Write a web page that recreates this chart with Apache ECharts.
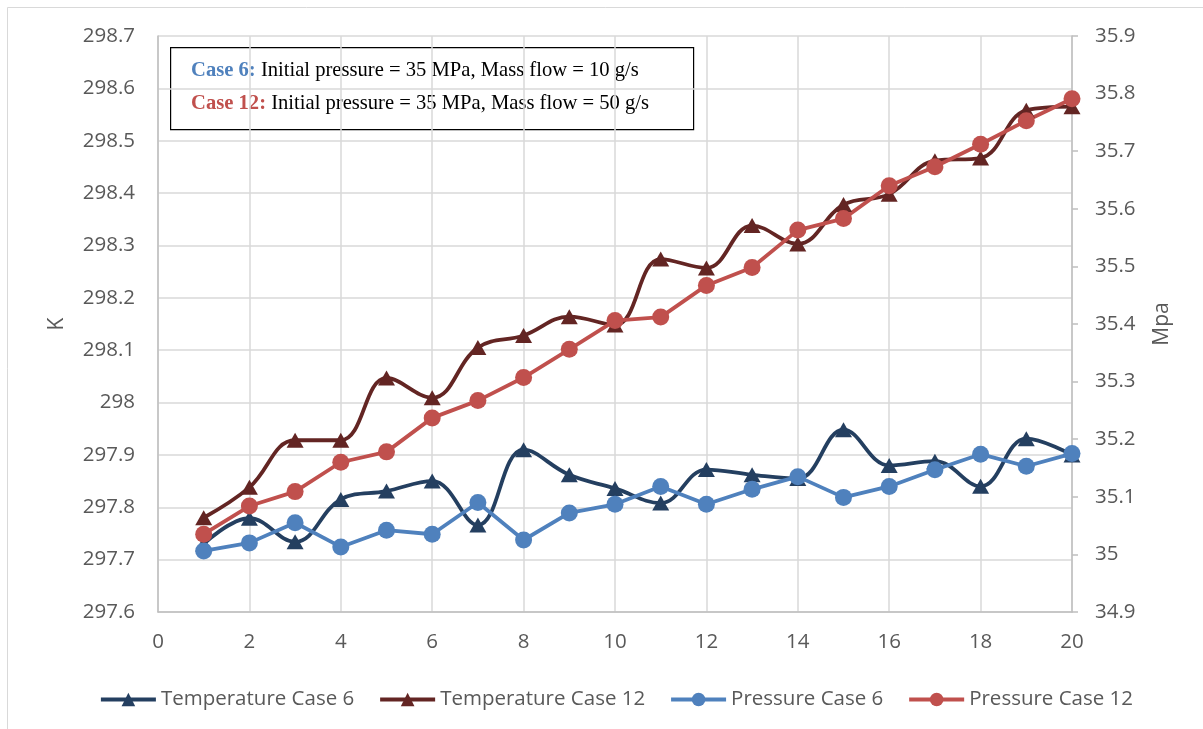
<!DOCTYPE html>
<html>
<head>
<meta charset="utf-8">
<script src="https://cdn.jsdelivr.net/npm/echarts@6/dist/echarts.min.js"></script>
<style>
  html, body { margin: 0; padding: 0; background: #fff; }
  #chart { width: 1203px; height: 729px; }
</style>
</head>
<body>
<div id="chart"></div>
<script>
// Step index (1..20)
const steps = [1, 2, 3, 4, 5, 6, 7, 8, 9, 10, 11, 12, 13, 14, 15, 16, 17, 18, 19, 20];

// Temperature (K), left axis
const temperatureCase6 = [297.730, 297.779, 297.734, 297.815, 297.831, 297.850, 297.766, 297.910, 297.862, 297.836,
                          297.808, 297.872, 297.862, 297.855, 297.948, 297.880, 297.888, 297.840, 297.931, 297.900];
const temperatureCase12 = [297.780, 297.838, 297.928, 297.928, 298.047, 298.009, 298.105, 298.128, 298.164, 298.148,
                           298.274, 298.257, 298.338, 298.303, 298.378, 298.398, 298.462, 298.467, 298.558, 298.565];

// Pressure (MPa), right axis
const pressureCase6 = [35.006, 35.020, 35.055, 35.013, 35.042, 35.035, 35.090, 35.025, 35.072, 35.087,
                       35.118, 35.087, 35.113, 35.135, 35.099, 35.118, 35.147, 35.174, 35.153, 35.175];
const pressureCase12 = [35.035, 35.084, 35.109, 35.160, 35.178, 35.237, 35.267, 35.307, 35.356, 35.406,
                        35.412, 35.467, 35.498, 35.563, 35.583, 35.640, 35.673, 35.712, 35.753, 35.791];

const seriesNames = ['Temperature Case 6', 'Temperature Case 12', 'Pressure Case 6', 'Pressure Case 12'];

const pairs = (ys) => steps.map((x, i) => [x, ys[i]]);

const labelColor = '#595959';
const axisGrey = '#BFBFBF';
const gridGrey = '#D9D9D9';
const uiFont = '"Open Sans", "DejaVu Sans", sans-serif';
const serifFont = '"Liberation Serif", "DejaVu Serif", serif';

const chart = echarts.init(document.getElementById('chart'), null, { renderer: 'canvas' });

function lineSeries(name, data, yIndex, color, symbol, smooth) {
  return {
    name: name,
    type: 'line',
    yAxisIndex: yIndex,
    data: pairs(data),
    smooth: smooth,
    symbol: symbol,
    symbolSize: symbol === 'circle' ? 17 : [17, 15],
    showSymbol: true,
    lineStyle: { color: color, width: 3.8 },
    itemStyle: { color: color, borderWidth: 0 },
    emphasis: { disabled: true },
    animation: false
  };
}

chart.setOption({
  animation: false,
  backgroundColor: '#fff',
  grid: { left: 158, right: 131, top: 36, bottom: 117, containLabel: false },
  xAxis: {
    type: 'value',
    min: 0,
    max: 20,
    interval: 2,
    axisLine: { show: true, lineStyle: { color: axisGrey, width: 1.5 } },
    axisTick: { show: false },
    axisLabel: { color: labelColor, fontSize: 20.5, fontFamily: uiFont, margin: 20 },
    splitLine: { show: true, lineStyle: { color: gridGrey, width: 1.5 } }
  },
  yAxis: [
    {
      type: 'value',
      position: 'left',
      min: 297.6,
      max: 298.7,
      interval: 0.1,
      name: 'K',
      nameLocation: 'middle',
      nameGap: 90,
      nameRotate: 90,
      nameTextStyle: { color: labelColor, fontSize: 21, fontFamily: uiFont },
      axisLine: { show: true, lineStyle: { color: axisGrey, width: 1.5 } },
      axisTick: { show: false },
      axisLabel: {
        color: labelColor, fontSize: 20.5, fontFamily: uiFont, margin: 23,
        formatter: (v) => String(parseFloat(v.toFixed(1)))
      },
      splitLine: { show: true, lineStyle: { color: gridGrey, width: 1.5 } }
    },
    {
      type: 'value',
      position: 'right',
      min: 34.9,
      max: 35.9,
      interval: 0.1,
      name: 'Mpa',
      nameLocation: 'middle',
      nameGap: 80,
      nameRotate: 90,
      nameTextStyle: { color: labelColor, fontSize: 21, fontFamily: uiFont },
      axisLine: { show: true, lineStyle: { color: axisGrey, width: 1.5 } },
      axisTick: { show: true, inside: false, length: 6, lineStyle: { color: axisGrey, width: 1.5 } },
      axisLabel: {
        color: labelColor, fontSize: 20.5, fontFamily: uiFont, margin: 23,
        formatter: (v) => String(parseFloat(v.toFixed(1)))
      },
      splitLine: { show: false }
    }
  ],
  legend: {
    data: seriesNames,
    left: 94,
    top: 684,
    itemWidth: 55,
    itemHeight: 17,
    itemGap: 24,
    lineStyle: { width: 3.8 },
    textStyle: { color: labelColor, fontSize: 20.5, fontFamily: uiFont, padding: [0, 0, 0, 0] }
  },
  series: [
    lineSeries(seriesNames[0], temperatureCase6, 0, '#243F60', 'triangle', 0.4),
    lineSeries(seriesNames[1], temperatureCase12, 0, '#632523', 'triangle', 0.4),
    lineSeries(seriesNames[2], pressureCase6, 1, '#4F81BD', 'circle', false),
    lineSeries(seriesNames[3], pressureCase12, 1, '#C0504D', 'circle', false)
  ],
  graphic: [
    {
      type: 'rect',
      silent: true,
      shape: { x: 7.5, y: 7.5, width: 1200, height: 730 },
      style: { fill: 'none', stroke: gridGrey, lineWidth: 1 },
      z: -1
    },
    {
      type: 'group',
      left: 170,
      top: 47,
      z: 100,
      children: [
        {
          type: 'rect',
          shape: { x: 0.5, y: 0.5, width: 523, height: 82 },
          style: { fill: '#fff', stroke: '#000', lineWidth: 1.2 }
        },
        {
          type: 'text',
          x: 21,
          y: 23.5,
          style: {
            text: '{c6|Case 6:} Initial pressure = 35 MPa, Mass flow = 10 g/s',
            fontFamily: serifFont,
            fontSize: 20.6,
            fill: '#000',
            verticalAlign: 'middle',
            rich: {
              c6: { fontFamily: serifFont, fontSize: 20.6, fontWeight: 'bold', fill: '#4F81BD', verticalAlign: 'middle' }
            }
          }
        },
        {
          type: 'text',
          x: 21,
          y: 56.5,
          style: {
            text: '{c12|Case 12:} Initial pressure = 35 MPa, Mass flow = 50 g/s',
            fontFamily: serifFont,
            fontSize: 20.6,
            fill: '#000',
            verticalAlign: 'middle',
            rich: {
              c12: { fontFamily: serifFont, fontSize: 20.6, fontWeight: 'bold', fill: '#C0504D', verticalAlign: 'middle' }
            }
          }
        }
      ]
    }
  ]
});
</script>
</body>
</html>
